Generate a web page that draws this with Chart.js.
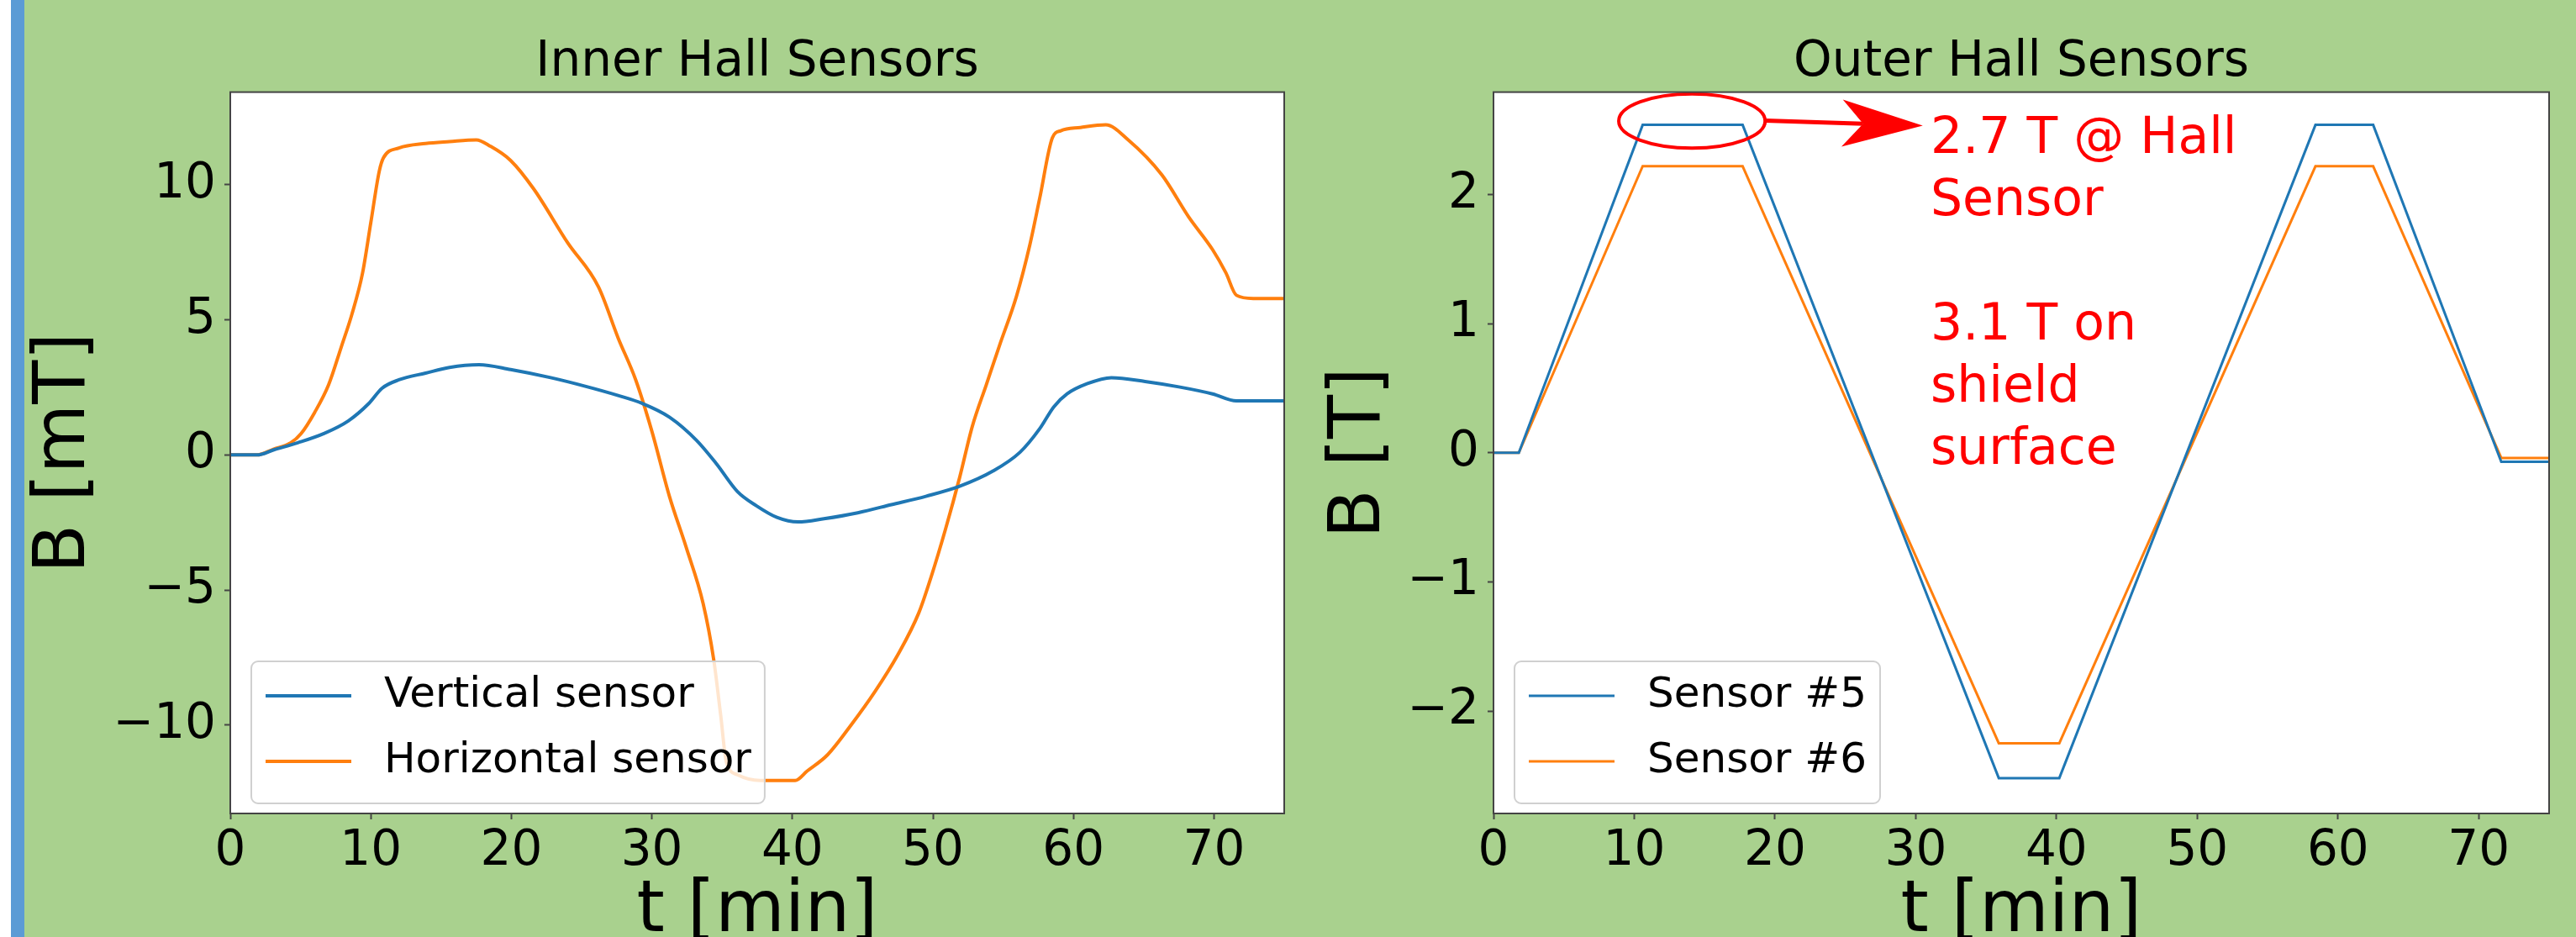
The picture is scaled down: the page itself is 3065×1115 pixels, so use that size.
<!DOCTYPE html>
<html>
<head>
<meta charset="utf-8">
<script src="https://cdn.jsdelivr.net/npm/chart.js@4.4.0/dist/chart.umd.min.js"></script>
<style>
  html, body { margin: 0; padding: 0; }
  body { width: 3065px; height: 1115px; overflow: hidden; position: relative; background: #a9d18e; }
  #strip { position: absolute; left: 0; top: 0; width: 13px; height: 1115px; background: #fff; }
  #bar { position: absolute; left: 13px; top: 0; width: 16px; height: 1115px; background: #5b9bd5; }
  #inner { position: absolute; left: 29px; top: 0; }
  #outer { position: absolute; left: 1560px; top: 0; }
</style>
</head>
<body>
<div id="strip"></div>
<div id="bar"></div>
<canvas id="inner" width="1531" height="1160"></canvas>
<canvas id="outer" width="1505" height="1160"></canvas>
<script>
// inner hall sensors [mT]
const tVertical = [0, 1.9, 3.1, 4.8, 6.7, 8.4, 9.85, 10.8, 12.0, 13.9, 15.6, 17.7, 19.95, 22.8, 25.2, 27.6, 29.3, 31.25, 33.2, 34.6, 36.1, 37.44, 38.9, 40.4, 42.25, 44.65, 47.05, 49.5, 51.9, 54.3, 56.2, 57.6, 58.6, 59.55, 61.0, 62.7, 65.1, 67.5, 69.9, 71.6, 75];
const vertical = [0, 0, 0.19, 0.45, 0.8, 1.26, 1.9, 2.47, 2.78, 3.03, 3.24, 3.34, 3.16, 2.86, 2.55, 2.2, 1.91, 1.4, 0.53, -0.33, -1.36, -1.88, -2.31, -2.48, -2.36, -2.14, -1.84, -1.53, -1.16, -0.59, 0.1, 0.97, 1.78, 2.26, 2.64, 2.86, 2.72, 2.52, 2.26, 2.0, 2.0];
const tHorizontal = [0, 1.9, 3.1, 4.3, 5.05, 6.0, 7.0, 7.9, 8.65, 9.4, 10.0, 10.6, 10.9, 12.0, 13.9, 15.6, 17.5, 18.5, 19.95, 21.6, 24.0, 26.2, 27.6, 28.85, 30.0, 31.25, 32.45, 33.65, 34.4, 34.9, 35.3, 36.1, 37.7, 40.2, 41.05, 42.5, 44.2, 45.85, 47.5, 49.0, 49.9, 50.9, 51.9, 52.8, 53.8, 54.75, 55.95, 56.9, 57.6, 58.5, 59.1, 60.5, 62.3, 63.9, 66.3, 68.2, 69.9, 70.85, 71.6, 72.8, 75];
const horizontal = [0, 0, 0.22, 0.45, 0.8, 1.57, 2.6, 4.0, 5.2, 6.7, 8.6, 10.5, 11.0, 11.36, 11.53, 11.6, 11.66, 11.43, 10.9, 9.84, 7.86, 6.22, 4.33, 2.78, 0.88, -1.53, -3.43, -5.5, -7.57, -9.64, -11.36, -11.84, -12.05, -12.05, -11.7, -11.1, -9.98, -8.78, -7.4, -5.84, -4.47, -2.74, -0.84, 1.05, 2.6, 4.07, 5.88, 7.78, 9.5, 11.74, 12.0, 12.12, 12.22, 11.66, 10.36, 8.81, 7.6, 6.74, 5.91, 5.79, 5.79];

// outer hall sensors [T]
const tOuter = [0, 1.8, 10.6, 17.7, 35.9, 40.2, 58.4, 62.5, 71.6, 75];
const sensor5 = [0, 0, 2.54, 2.54, -2.52, -2.52, 2.54, 2.54, -0.07, -0.07];
const sensor6 = [0, 0, 2.22, 2.22, -2.25, -2.25, 2.22, 2.22, -0.04, -0.04];

// axes
const timeTicks = [0, 10, 20, 30, 40, 50, 60, 70];
const innerTicks = [-10, -5, 0, 5, 10];
const outerTicks = [-2, -1, 0, 1, 2];

// annotation on the outer plot (data units)
const ringCenter = [14.1, 2.57];
const ringRadius = [5.2, 0.21];
const arrowFrom = [19.3, 2.573];
const arrowTip = [30.5, 2.535];
const noteAt = [31.05, 2.32];
const noteLines = ["2.7 T @ Hall", "Sensor", "", "3.1 T on", "shield", "surface"];

const BLUE = "#1f77b4";
const ORANGE = "#ff7f0e";
Chart.defaults.font.family = "'DejaVu Sans'";
Chart.defaults.color = "#000";

const pairs = (ts, vs) => ts.map((t, i) => ({ x: t, y: vs[i] }));
const fmt = (v) => (v < 0 ? "\u2212" + Math.abs(v) : String(v));

// white plot face and the four spines
const frame = {
  id: "frame",
  beforeDraw(chart) {
    const a = chart.chartArea;
    chart.ctx.save();
    chart.ctx.fillStyle = "#fff";
    chart.ctx.fillRect(a.left, a.top, a.right - a.left, a.bottom - a.top);
    chart.ctx.restore();
  },
  afterDraw(chart) {
    const a = chart.chartArea;
    const ctx = chart.ctx;
    ctx.save();
    ctx.strokeStyle = "#444";
    ctx.lineWidth = 2;
    ctx.strokeRect(a.left, a.top, a.right - a.left, a.bottom - a.top);
    ctx.restore();
  },
};

// matplotlib-like legend in the lower left corner
const boxLegend = {
  id: "boxLegend",
  afterDatasetsDraw(chart) {
    const { ctx, chartArea } = chart;
    const sets = chart.data.datasets;
    ctx.save();
    ctx.font = "50px 'DejaVu Sans'";
    const textW = Math.max(...sets.map((d) => ctx.measureText(d.label).width));
    const w = 158 + textW + 16;
    const h = 169;
    const x = chartArea.left + 25;
    const y = chartArea.bottom - 12 - h;
    ctx.beginPath();
    ctx.roundRect(x, y, w, h, 8);
    ctx.fillStyle = "rgba(255,255,255,0.8)";
    ctx.fill();
    ctx.strokeStyle = "#d0d0d0";
    ctx.lineWidth = 2;
    ctx.stroke();
    sets.forEach((d, i) => {
      const ly = y + 41 + i * 78;
      ctx.strokeStyle = d.borderColor;
      ctx.lineWidth = d.borderWidth;
      ctx.beginPath();
      ctx.moveTo(x + 17, ly);
      ctx.lineTo(x + 119, ly);
      ctx.stroke();
      ctx.fillStyle = "#000";
      ctx.textBaseline = "middle";
      ctx.fillText(d.label, x + 158, ly);
    });
    ctx.restore();
  },
};

// red ring, arrow and note
const note = {
  id: "note",
  afterDatasetsDraw(chart) {
    const { ctx } = chart;
    const { x, y } = chart.scales;
    const px = (p) => [x.getPixelForValue(p[0]), y.getPixelForValue(p[1])];
    ctx.save();
    ctx.strokeStyle = "#ff0000";
    ctx.fillStyle = "#ff0000";

    const [cx, cy] = px(ringCenter);
    const rx = x.getPixelForValue(ringCenter[0] + ringRadius[0]) - cx;
    const ry = cy - y.getPixelForValue(ringCenter[1] + ringRadius[1]);
    ctx.lineWidth = 4;
    ctx.beginPath();
    ctx.ellipse(cx, cy, rx, ry, 0, 0, Math.PI * 2);
    ctx.stroke();

    const [x0, y0] = px(arrowFrom);
    const [x1, y1] = px(arrowTip);
    const ang = Math.atan2(y1 - y0, x1 - x0);
    const len = 96, half = 28, notch = 25;
    const bx = x1 - len * Math.cos(ang), by = y1 - len * Math.sin(ang);
    const nx = bx + notch * Math.cos(ang), ny = by + notch * Math.sin(ang);
    ctx.lineWidth = 5;
    ctx.beginPath();
    ctx.moveTo(x0, y0);
    ctx.lineTo(nx, ny);
    ctx.stroke();
    ctx.beginPath();
    ctx.moveTo(x1, y1);
    ctx.lineTo(bx - half * Math.sin(ang), by + half * Math.cos(ang));
    ctx.lineTo(nx, ny);
    ctx.lineTo(bx + half * Math.sin(ang), by - half * Math.cos(ang));
    ctx.closePath();
    ctx.fill();

    const [tx, ty] = px(noteAt);
    ctx.font = "60px 'DejaVu Sans'";
    ctx.textBaseline = "alphabetic";
    noteLines.forEach((line, i) => ctx.fillText(line, tx, ty + i * 74));
    ctx.restore();
  },
};

function scales(yMin, yMax, yTicks, yTitle, yWidth, yTitlePad) {
  const tickGrid = {
    drawOnChartArea: false,
    drawTicks: true,
    tickLength: 7,
    tickWidth: 2,
    tickColor: "#444",
  };
  return {
    x: {
      type: "linear",
      min: 0,
      max: 75,
      afterBuildTicks: (s) => { s.ticks = timeTicks.map((v) => ({ value: v })); },
      afterFit: (s) => { s.height = 192; },
      grid: tickGrid,
      border: { display: false },
      ticks: { font: { size: 58 }, padding: 4, maxRotation: 0, autoSkip: false, callback: fmt },
      title: { display: true, text: "t [min]", font: { size: 85, lineHeight: 1 }, padding: { top: 0, bottom: 32 } },
    },
    y: {
      type: "linear",
      min: yMin,
      max: yMax,
      afterBuildTicks: (s) => { s.ticks = yTicks.map((v) => ({ value: v })); },
      afterFit: (s) => { s.width = yWidth; },
      grid: tickGrid,
      border: { display: false },
      ticks: { font: { size: 58 }, padding: 10, autoSkip: false, callback: fmt },
      title: { display: true, text: yTitle, font: { size: 85, lineHeight: 1 }, padding: { top: yTitlePad, bottom: 0 } },
    },
  };
}

function common(title) {
  return {
    responsive: false,
    animation: false,
    devicePixelRatio: 1,
    layout: { padding: { left: 0, right: 32, top: 0, bottom: 0 } },
    elements: { point: { radius: 0 } },
    plugins: {
      legend: { display: false },
      tooltip: { enabled: false },
      title: {
        display: true,
        text: title,
        fullSize: false,
        font: { size: 58, weight: "normal", lineHeight: 1.2 },
        padding: { top: 40, bottom: 0 },
      },
    },
  };
}

new Chart(document.getElementById("inner"), {
  type: "line",
  data: {
    datasets: [
      { label: "Vertical sensor", data: pairs(tVertical, vertical), borderColor: BLUE, borderWidth: 4, cubicInterpolationMode: "monotone" },
      { label: "Horizontal sensor", data: pairs(tHorizontal, horizontal), borderColor: ORANGE, borderWidth: 4, cubicInterpolationMode: "monotone" },
    ],
  },
  options: Object.assign(common("Inner Hall Sensors"), {
    scales: scales(-13.27, 13.43, innerTicks, "B [mT]", 245, 6),
  }),
  plugins: [frame, boxLegend],
});

new Chart(document.getElementById("outer"), {
  type: "line",
  data: {
    datasets: [
      { label: "Sensor #5", data: pairs(tOuter, sensor5), borderColor: BLUE, borderWidth: 3 },
      { label: "Sensor #6", data: pairs(tOuter, sensor6), borderColor: ORANGE, borderWidth: 3 },
    ],
  },
  options: Object.assign(common("Outer Hall Sensors"), {
    scales: scales(-2.794, 2.794, outerTicks, "B [T]", 217, 16.5),
  }),
  plugins: [frame, boxLegend, note],
});
</script>
</body>
</html>
